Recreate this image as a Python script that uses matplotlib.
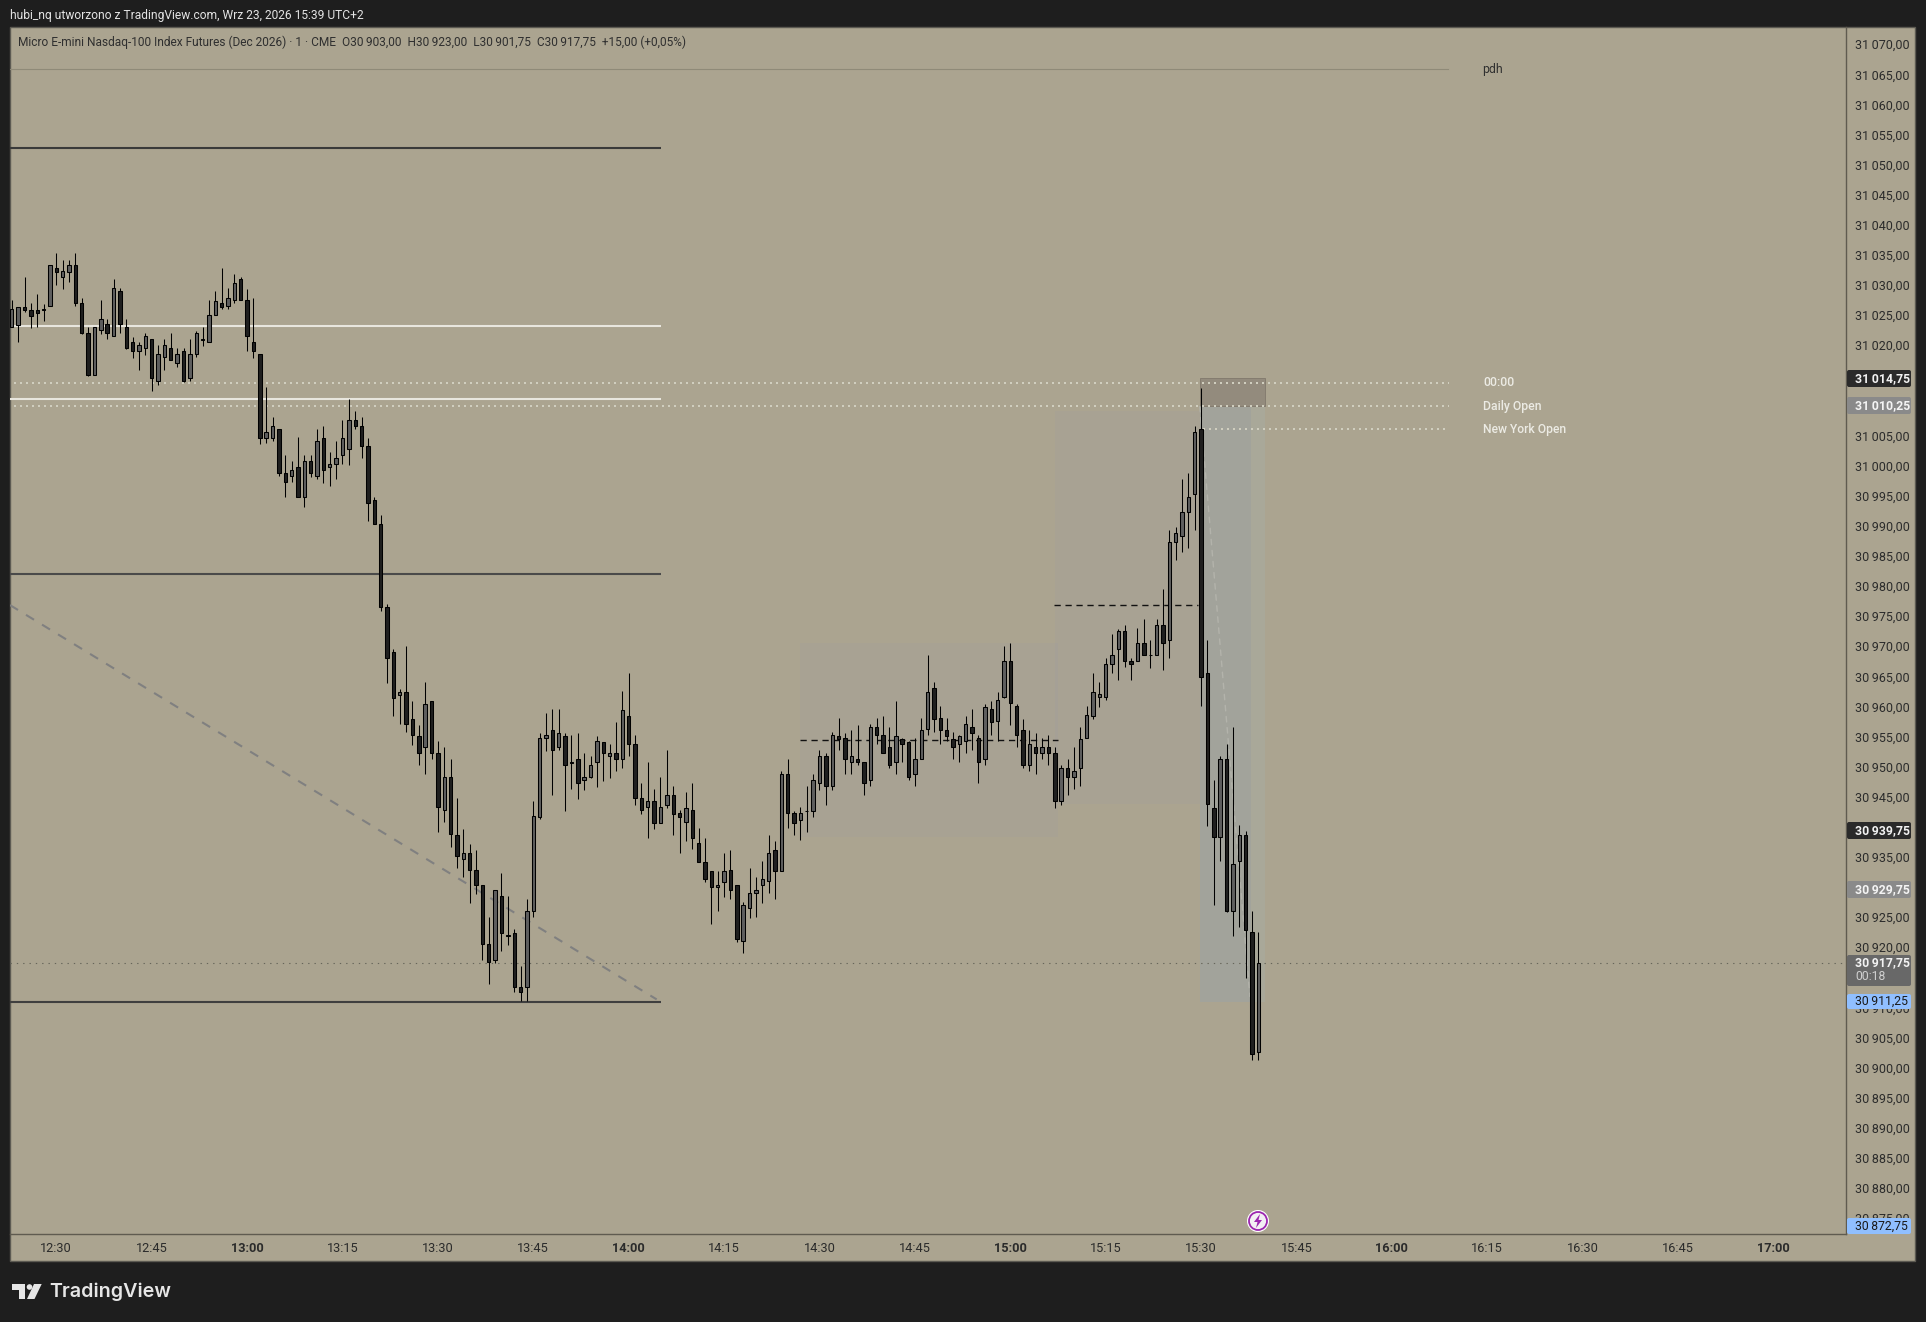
import numpy as np
import matplotlib

matplotlib.use("Agg")
import matplotlib.pyplot as plt
from matplotlib.patches import Rectangle, FancyBboxPatch, Circle, Polygon
from matplotlib.transforms import ScaledTranslation

plt.rcParams["font.family"] = ["Roboto", "DejaVu Sans"]

# minutes after 12:30, one candle per minute (12:23 .. 15:39)
bar_minutes = list(range(-7, 190))

opens = [
    31023.5, 31023.75, 31026.75, 31026.25, 31026.25, 31026.5, 31027, 31033.25, 31031.75, 31032.5,
    31033.75, 31027.5, 31022.5, 31015.5, 31023, 31024, 31022, 31029.5, 31023.5, 31021,
    31019.5, 31020, 31021.5, 31014.5, 31018.5, 31020, 31017.5, 31019.5, 31015, 31019,
    31021.5, 31021, 31025.5, 31027.5, 31027, 31028, 31031.5, 31028, 31021, 31019,
    31005, 31005, 31006.5, 30999.25, 30998.75, 31000.25, 30995.25, 31001.25, 30998.75, 31005,
    31000.25, 31000.75, 31002.25, 31003.25, 31008, 31007, 31003.75, 30994.75, 30990.75, 30977,
    30969.5, 30962.25, 30962.75, 30958.25, 30955.5, 30953.75, 30961.25, 30952.75, 30943.25, 30948.75,
    30939, 30935, 30936, 30933.25, 30930.75, 30921, 30918.25, 30929, 30922.5, 30922.75,
    30913.75, 30913.75, 30926.5, 30942, 30955.25, 30956.5, 30953.75, 30955.5, 30951.25, 30951.75,
    30948.25, 30948.75, 30951.25, 30954.5, 30952.25, 30952.75, 30951.75, 30958.75, 30954.25, 30945.25,
    30943.75, 30944.75, 30941, 30944, 30945.75, 30942.75, 30941.25, 30943.25, 30937.75, 30934.5,
    30933, 30930.5, 30931.25, 30933.25, 30930.75, 30921.5, 30927, 30929.5, 30930.75, 30931.5,
    30936.5, 30933, 30949.25, 30942.75, 30941.5, 30943, 30943, 30947.75, 30952.25, 30947.25,
    30955.5, 30955.25, 30951.25, 30951.75, 30951.25, 30948.25, 30957, 30955.75, 30953.75, 30951.25,
    30955, 30954.5, 30949.25, 30951.75, 30956.75, 30963.5, 30958.5, 30956.5, 30955, 30954.25,
    30954.75, 30957, 30955.25, 30951.75, 30960, 30958, 30962, 30968, 30960.5, 30956.5,
    30950.75, 30953.75, 30952.75, 30953.75, 30952.75, 30944.75, 30950.25, 30948.75, 30950.25, 30955.25,
    30958.75, 30962, 30962, 30967.5, 30970, 30973, 30968, 30968, 30971, 30969,
    30969, 30974, 30971.5, 30987.75, 30988.75, 30992.75, 30995.75, 31006.5, 30966, 30943.5,
    30938.75, 30951.75, 30926.5, 30934.75, 30939, 30923, 30903,
]
highs = [
    31028, 31026.75, 31031.75, 31027.5, 31029, 31027.25, 31033.75, 31035.75, 31034.5, 31034.5,
    31035.75, 31028.25, 31023.5, 31023.5, 31028, 31024.75, 31031.5, 31030, 31024.75, 31021.75,
    31021, 31022.5, 31021.5, 31020.5, 31021.5, 31022.5, 31020, 31020, 31021.5, 31022.75,
    31023.5, 31028, 31029.5, 31033.25, 31030, 31032.25, 31031.75, 31029.75, 31028.25, 31019,
    31013.5, 31008.5, 31006.5, 31002.25, 31001.25, 31005.25, 31002.25, 31002.25, 31006.5, 31007,
    31002.75, 31004.5, 31008, 31011.5, 31009.5, 31008.5, 31005, 30995.25, 30992.25, 30977.5,
    30970, 30963.25, 30970.5, 30961.25, 30957.25, 30964.5, 30961.25, 30954.75, 30953.75, 30951.75,
    30945.25, 30940, 30937.5, 30936.5, 30930.75, 30925.5, 30930, 30932.75, 30929, 30923.5,
    30917.25, 30928.5, 30944.75, 30956, 30959.25, 30960, 30960, 30956, 30955.75, 30956,
    30952.75, 30952.25, 30955.5, 30954.5, 30954.25, 30957.75, 30963, 30966, 30955.75, 30947.75,
    30951.25, 30946.75, 30948.75, 30953.25, 30947.25, 30943.25, 30946.25, 30947.75, 30940.25, 30938.5,
    30933, 30933, 30936, 30936.5, 30930.75, 30928, 30933.5, 30932, 30934.75, 30939,
    30938, 30949.75, 30951.75, 30943, 30943.75, 30947.25, 30949.25, 30953.25, 30952.75, 30956.25,
    30958.5, 30956, 30956.5, 30957.25, 30951.25, 30957.5, 30958.5, 30958.75, 30957, 30961.25,
    30955.25, 30954.75, 30955.25, 30958.5, 30969, 30964.5, 30960.5, 30958.5, 30956.25, 30955.75,
    30958.75, 30960, 30955.75, 30960.75, 30961.25, 30962.75, 30970.5, 30971, 30960.75, 30958.25,
    30956.5, 30956, 30955.25, 30955.75, 30953.75, 30950.75, 30951.75, 30953.75, 30957, 30960.5,
    30966, 30964.5, 30968.5, 30972.5, 30973.25, 30974, 30968.5, 30973.5, 30975, 30971.5,
    30975, 30980, 30989.75, 30990.25, 30998.25, 30999.25, 31007, 31013.25, 30971.5, 30948.25,
    30952.25, 30954.25, 30957, 30940.75, 30939.75, 30926.5, 30923,
]
lows = [
    31023.5, 31021, 31026, 31023.25, 31023.5, 31024.5, 31027, 31030.5, 31029.75, 31031,
    31027, 31022.25, 31015.25, 31015.5, 31022.25, 31021.5, 31022, 31022.5, 31019.75, 31018.25,
    31016.25, 31018.75, 31012.75, 31013.75, 31016.25, 31018, 31016.75, 31014.25, 31014.5, 31018.5,
    31020.25, 31021, 31025.5, 31026.5, 31026.5, 31027.5, 31028, 31019.5, 31018.25, 31004,
    31004.25, 31004.5, 30998.75, 30995.25, 30997.75, 30995.25, 30993.5, 30998.5, 30998.25, 30997.5,
    30997, 30998.25, 31000.75, 31000.5, 31006.5, 31001.75, 30991.25, 30990.75, 30976.25, 30964.25,
    30958.75, 30957.5, 30956.25, 30954, 30950.75, 30949.25, 30951.75, 30939.5, 30941.25, 30937,
    30933.5, 30932, 30927.75, 30929.25, 30918.25, 30914.25, 30917.75, 30919.75, 30920.75, 30913,
    30911.5, 30911.5, 30925.5, 30941.75, 30953, 30945.75, 30953.25, 30943, 30946.75, 30945,
    30946.5, 30948.5, 30947, 30948, 30948.5, 30949.75, 30950.25, 30952.25, 30944, 30942.5,
    30938.5, 30940, 30941, 30943.5, 30939, 30936, 30938, 30936.75, 30934.5, 30931.25,
    30924.25, 30926.5, 30928.75, 30928.5, 30921.25, 30919.5, 30925.25, 30925.5, 30927.75, 30929.5,
    30928.5, 30933, 30940.25, 30939, 30938.25, 30939.5, 30942, 30946.5, 30944, 30946.5,
    30953.25, 30949.25, 30949.25, 30950.75, 30945.75, 30947.25, 30954.25, 30952.75, 30950.25, 30949.25,
    30951.25, 30948.25, 30947.25, 30951.75, 30955.75, 30956.25, 30954.25, 30954.75, 30951.75, 30951.25,
    30952.75, 30953.25, 30947.75, 30950.75, 30955.75, 30954.75, 30961.75, 30957.25, 30953.75, 30950.25,
    30949.75, 30949.25, 30951.75, 30950.75, 30943.5, 30944, 30945.75, 30946.75, 30947.25, 30955.25,
    30958.25, 30960.25, 30961.5, 30966, 30964.75, 30967, 30964.75, 30968, 30969, 30966.75,
    30969, 30966.5, 30968.5, 30984.75, 30986, 30986.75, 30989.75, 30960.5, 30940.5, 30927.5,
    30934.75, 30926.25, 30922.25, 30923.75, 30915.25, 30901.75, 30901.75,
]
closes = [
    31026.5, 31026.75, 31026.25, 31025.25, 31025.75, 31026.25, 31033.75, 31032.5, 31032.75, 31033.75,
    31027.5, 31022.5, 31015.5, 31023.5, 31024.75, 31022.5, 31030, 31024, 31020, 31019.5,
    31020.5, 31022, 31015, 31019, 31020.5, 31018, 31019, 31014.5, 31019, 31022.5,
    31021.25, 31025.5, 31027.75, 31026.75, 31028.25, 31030.75, 31028, 31022, 31019.5, 31005,
    31006, 31007, 30999.25, 30997.75, 30999.75, 30995.25, 31001.25, 30999.25, 31004.5, 30999.75,
    31000.75, 31001.75, 31005, 31008, 31007, 31003.75, 30994.25, 30990.75, 30977, 30968.5,
    30961.75, 30962.75, 30957.5, 30955.75, 30952.75, 30960.75, 30952.75, 30943.75, 30948.75, 30939.25,
    30935.5, 30936, 30933.25, 30930.75, 30921, 30918, 30930, 30922.75, 30922.25, 30913.75,
    30913, 30926.5, 30942.25, 30955.25, 30955.75, 30953.25, 30956, 30950.75, 30951, 30947.75,
    30948.75, 30950.75, 30954.75, 30952.75, 30952.75, 30951.75, 30959.75, 30954.25, 30945.25, 30943.25,
    30944.75, 30941, 30943.75, 30945.75, 30942.5, 30942, 30943.5, 30938.5, 30934.5, 30931.75,
    30930.5, 30930.75, 30933, 30930, 30921.75, 30927.5, 30929.5, 30930, 30931.75, 30936,
    30933, 30949.25, 30942.75, 30941, 30942.75, 30943, 30948.25, 30952.25, 30947.25, 30955.75,
    30955, 30951.75, 30952.25, 30951.25, 30947.75, 30957, 30955.75, 30952.75, 30950.75, 30955.5,
    30954.25, 30948.75, 30951.75, 30956.5, 30962.75, 30958.25, 30956.5, 30955.5, 30953.75, 30955.5,
    30957.5, 30956, 30951.25, 30960.25, 30957.75, 30961.5, 30968, 30961, 30955.75, 30950.75,
    30954.25, 30952.75, 30953.75, 30952.75, 30944.75, 30950.25, 30948.75, 30949.75, 30955, 30959,
    30962.75, 30962.5, 30967.5, 30969, 30973, 30968, 30967.5, 30971, 30969, 30969,
    30974, 30971, 30987.75, 30989.25, 30992.75, 30995.25, 31006, 30965.25, 30944.25, 30938.75,
    30951.75, 30926.5, 30934.25, 30939, 30923.25, 30902.75, 30917.75,
]

time_ticks = [0, 15, 30, 45, 60, 75, 90, 105, 120, 135, 150, 165, 180, 195, 210, 225, 240, 255, 270]
time_labels = ["12:30", "12:45", "13:00", "13:15", "13:30", "13:45", "14:00", "14:15", "14:30", "14:45",
               "15:00", "15:15", "15:30", "15:45", "16:00", "16:15", "16:30", "16:45", "17:00"]
bold_times = ["13:00", "14:00", "15:00", "16:00", "17:00"]
price_ticks = list(range(30875, 31071, 5))

solid_levels = [31053.25, 31023.6, 31011.5, 30982.4, 30911.25]
solid_colors = ["#3a3a3a", "#e8e6de", "#e8e6de", "#4a4a4a", "#3f3f3f"]

BG = "#aba490"
DARK = "#1e1e1e"
W, H = 1926, 1322


def price_label(value):
    txt = f"{value:.2f}".replace(".", ",")
    return txt[:2] + "\u2009" + txt[2:]


fig = plt.figure(figsize=(W / 100, H / 100), dpi=100, facecolor=DARK)

# pixel-space layers: panel behind the chart, tags and captions above it
back = fig.add_axes([0, 0, 1, 1], zorder=0)
back.set_xlim(0, W)
back.set_ylim(H, 0)
back.axis("off")
back.add_patch(Rectangle((10, 27), 1905, 1234, fc=BG, ec="#5c5a52", lw=1))

ax = fig.add_axes([10 / W, 1 - 1234 / H, 1836 / W, 1207 / H], zorder=1)
ax.patch.set_alpha(0)
ax.set_xlim(-7.28, 281.4)
ax.set_ylim(30872.78, 31073.28)
for side in ["top", "left"]:
    ax.spines[side].set_visible(False)
for side in ["right", "bottom"]:
    ax.spines[side].set_color("#5f5b50")
    ax.spines[side].set_linewidth(1.0)

ax.set_xticks(time_ticks)
ax.set_xticklabels(time_labels, fontsize=9.2, color="#2b2b2b")
for lab in ax.get_xticklabels():
    if lab.get_text() in bold_times:
        lab.set_fontweight("bold")
ax.yaxis.tick_right()
ax.set_yticks(price_ticks)
ax.set_yticklabels([price_label(p) for p in price_ticks], fontsize=9.0, color="#2b2b2b")
ax.tick_params(axis="x", length=0, pad=5.5)
ax.tick_params(axis="y", length=0, pad=6.5)
# price labels sit a little above their level
nudge = ScaledTranslation(0, 2.5 / 100, fig.dpi_scale_trans)
for lab in ax.get_yticklabels():
    lab.set_transform(lab.get_transform() + nudge)

# shaded zones
ax.add_patch(Rectangle((116.9, 30938.75), 40.6, 32.25, fc="#9696aa", alpha=0.14, lw=0, zorder=1))
ax.add_patch(Rectangle((157, 30944.25), 22.8, 65.25, fc="#9696aa", alpha=0.14, lw=0, zorder=1))
ax.add_patch(Rectangle((179.8, 30911.25), 8.1, 99, fc="#a2a39b", lw=0, zorder=1))
ax.add_patch(Rectangle((187.9, 30911.25), 2.15, 99, fc="#a9a899", lw=0, zorder=1))
ax.add_patch(Rectangle((179.8, 31010.25), 10.25, 4.75, fc="#938b7d", ec="#857d70", lw=0.7, zorder=1))

# levels
for level, col in zip(solid_levels, solid_colors):
    ax.plot([-7.28, 95.1], [level, level], color=col, lw=1.5, solid_capstyle="butt", zorder=2)
ax.plot([-7.28, 218.8], [31066.25, 31066.25], color="#8f8a78", lw=0.8, zorder=2)
ax.plot([-7.28, 281.4], [30917.75, 30917.75], color="#66655a", lw=0.8, ls=(0, (1.2, 4.5)), zorder=2)
for start, end, level in [(-6.65, 219, 31014.1), (-6.65, 219, 31010.25), (180.3, 219, 31006.5)]:
    ax.plot([start, end], [level, level], color="#d0cebf", lw=1.44, ls=(0, (1, 2)),
            dash_capstyle="butt", zorder=2)
ax.plot([-7.28, 94.4], [30977.25, 30911.75], color="#808080", lw=1.5, ls=(0, (4.5, 4.5)),
        dash_capstyle="butt", zorder=2)
ax.plot([116.9, 157.5], [30954.9, 30954.9], color="#111111", lw=1.0, ls=(0, (4.5, 3.4)), zorder=2)
ax.plot([156.9, 179.5], [30977.25, 30977.25], color="#111111", lw=1.0, ls=(0, (4.5, 3.4)), zorder=2)
ax.annotate("", xy=(187.7, 30912), xytext=(179.8, 31010.25),
            arrowprops=dict(arrowstyle="->", color="#b3b3ab", lw=1.0, ls=(0, (4, 4)),
                            shrinkA=0, shrinkB=0, mutation_scale=8), zorder=2)

# candles
bar_x = np.array(bar_minutes, dtype=float)
o = np.array(opens)
h = np.array(highs)
l = np.array(lows)
c = np.array(closes)
up = c >= o
ax.vlines(bar_x, l, h, color="black", lw=0.75, zorder=4)
ax.bar(bar_x, np.abs(c - o), bottom=np.minimum(o, c), width=0.54,
       color=np.where(up, "#5e5e5e", "#1f1f1f"), edgecolor="black", linewidth=0.75, zorder=5)

front = fig.add_axes([0, 0, 1, 1], zorder=2)
front.set_xlim(0, W)
front.set_ylim(H, 0)
front.axis("off")
front.patch.set_alpha(0)

front.text(10, 15, "hubi_nq utworzono z TradingView.com, Wrz 23, 2026 15:39 UTC+2",
           color="#e4e4e4", fontsize=8.68, va="center")
front.text(17.5, 42, "Micro E-mini Nasdaq-100 Index Futures (Dec 2026) \u00b7 1 \u00b7 CME  O30\u2009903,00  "
           "H30\u2009923,00  L30\u2009901,75  C30\u2009917,75  +15,00 (+0,05%)",
           color="#2f2f2f", fontsize=8.6, va="center")
front.text(1482, 70, "pdh", color="#2f2f2f", fontsize=8.8, va="center")
front.text(1483, 382.5, "00:00", color="#ecebe4", fontsize=8.8, va="center", fontweight="medium")
front.text(1483, 406.5, "Daily Open", color="#ecebe4", fontsize=8.8, va="center", fontweight="medium")
front.text(1483, 429, "New York Open", color="#ecebe4", fontsize=8.7, va="center", fontweight="medium")


def price_tag(y0, y1, face, text, col, bold=True):
    front.add_patch(FancyBboxPatch((1847, y0), 64, y1 - y0, boxstyle="round,pad=0,rounding_size=2",
                                   fc=face, ec="none"))
    front.text(1855, (y0 + y1) / 2, text, color=col, fontsize=8.8, va="center",
               fontweight="bold" if bold else "normal")


price_tag(370, 387, "#2a2a2a", price_label(31014.75), "#f2f2f2")
price_tag(397, 414, "#8a8a8a", price_label(31010.25), "#f4f4f4")
price_tag(822, 839, "#2a2a2a", price_label(30939.75), "#f2f2f2")
price_tag(881, 898, "#8a8a8a", price_label(30929.75), "#f4f4f4")
price_tag(955, 986, "#686868", "", "#f2f2f2")
front.text(1855, 963, price_label(30917.75), color="#f2f2f2", fontsize=8.8, va="center", fontweight="bold")
front.text(1855, 977, "00:18", color="#d0d0d0", fontsize=8.8, va="center")
price_tag(994, 1009, "#90bfff", price_label(30911.25), "#1a1a1a", bold=False)
price_tag(1218, 1234, "#90bfff", price_label(30872.75), "#1a1a1a", bold=False)

# lightning badge
front.add_patch(Circle((1258, 1221), 11, fc="white", ec="none"))
front.add_patch(Circle((1258, 1221), 9, fc="#f3eff4", ec="#9c27b0", lw=1.3))
front.add_patch(Polygon([(1260, 1214), (1254, 1222), (1257.5, 1222), (1256, 1228), (1262, 1220),
                         (1258.5, 1220)], fc="#9c27b0", ec="none"))

# logo
logo = "#e6e6e6"
front.add_patch(Polygon([(12, 1284), (25, 1284), (25, 1299), (19, 1299), (19, 1290), (12, 1290)], fc=logo, ec="none"))
front.add_patch(Circle((29.5, 1287), 2.8, fc=logo, ec="none"))
front.add_patch(Polygon([(34, 1284), (41.7, 1284), (34.5, 1299), (27, 1299)], fc=logo, ec="none"))
front.text(49, 1292, "TradingView", color=logo, fontsize=14.2, va="center", family=["Inter", "DejaVu Sans"],
           fontweight="semibold")

fig.savefig("out.png", dpi=100, facecolor=DARK)
